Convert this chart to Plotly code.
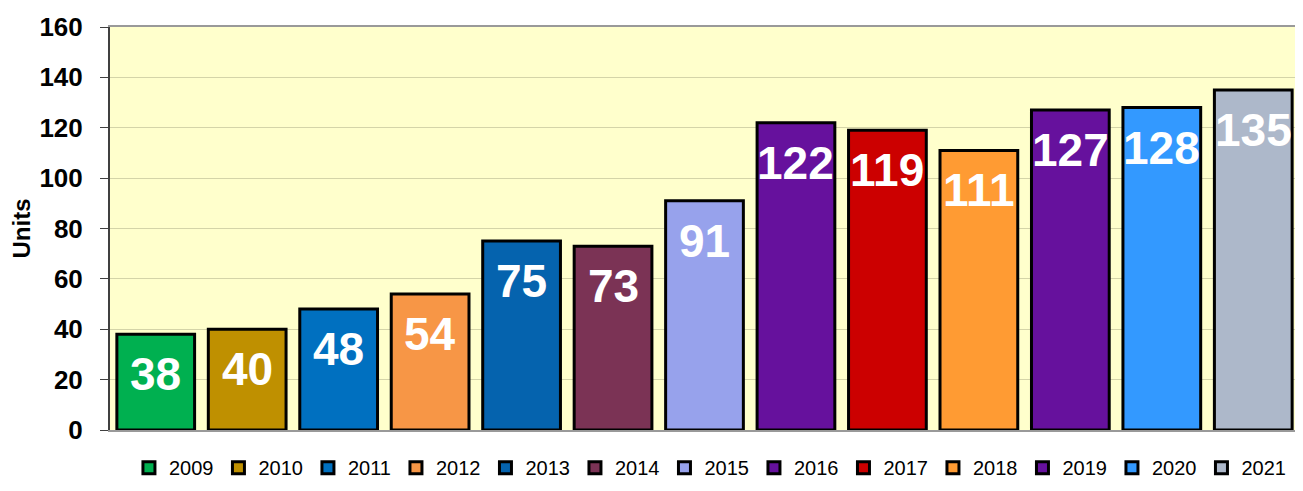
import plotly.graph_objects as go

years = ["2009", "2010", "2011", "2012", "2013", "2014", "2015",
         "2016", "2017", "2018", "2019", "2020", "2021"]
units = [38, 40, 48, 54, 75, 73, 91, 122, 119, 111, 127, 128, 135]
colors = ["#00B050", "#BF9000", "#0070C0", "#F79646", "#0563AE", "#7B3355", "#97A2EC",
          "#66119D", "#CC0000", "#FF9B33", "#66119D", "#3399FF", "#ADB8CA"]

fig = go.Figure()
for i, (year, val, col) in enumerate(zip(years, units, colors)):
    fig.add_trace(go.Bar(
        x=[year], y=[val], name=year,
        marker=dict(color=col, line=dict(color="black", width=3)),
        width=0.85,
    ))
    # value label just inside the top of the bar (x by category index,
    # since "2009" etc. would otherwise be read as numbers)
    fig.add_annotation(
        x=i, y=val, text=f"<b>{val}</b>", showarrow=False,
        yanchor="top", yshift=-12,
        font=dict(family="Arial, Liberation Sans", size=46, color="white"),
    )

# page body has an 8px margin, so the figure is sized/shifted to compensate
fig.update_layout(
    width=1295, height=483,
    barmode="overlay",
    paper_bgcolor="white",
    plot_bgcolor="#FFFFCC",
    margin=dict(l=102, r=4, t=16, b=58),
    font=dict(family="Arial, Liberation Sans", color="black"),
    showlegend=True,
    legend=dict(
        orientation="h", x=0.505, xanchor="center", y=-0.045, yanchor="top",
        font=dict(size=20, color="black"), itemwidth=30,
    ),
)
fig.update_xaxes(
    type="category", showticklabels=False, ticks="",
    showline=True, linecolor="#999999", linewidth=2, mirror=True,
    showgrid=False, range=[-0.5, 12.5],
)
fig.update_yaxes(
    range=[0, 160], dtick=20,
    showline=True, linecolor="#404040", linewidth=2,
    ticks="outside", ticklen=8, tickcolor="#404040",
    tickfont=dict(size=26, color="black"),
    tickprefix="<b>", ticksuffix="</b>",
    ticklabelstandoff=12,
    showgrid=True, gridcolor="#D4D4A8", gridwidth=1, zeroline=False,
    title=dict(text="<b>Units</b>", font=dict(size=24), standoff=2),
)

fig.write_html("out.html")
